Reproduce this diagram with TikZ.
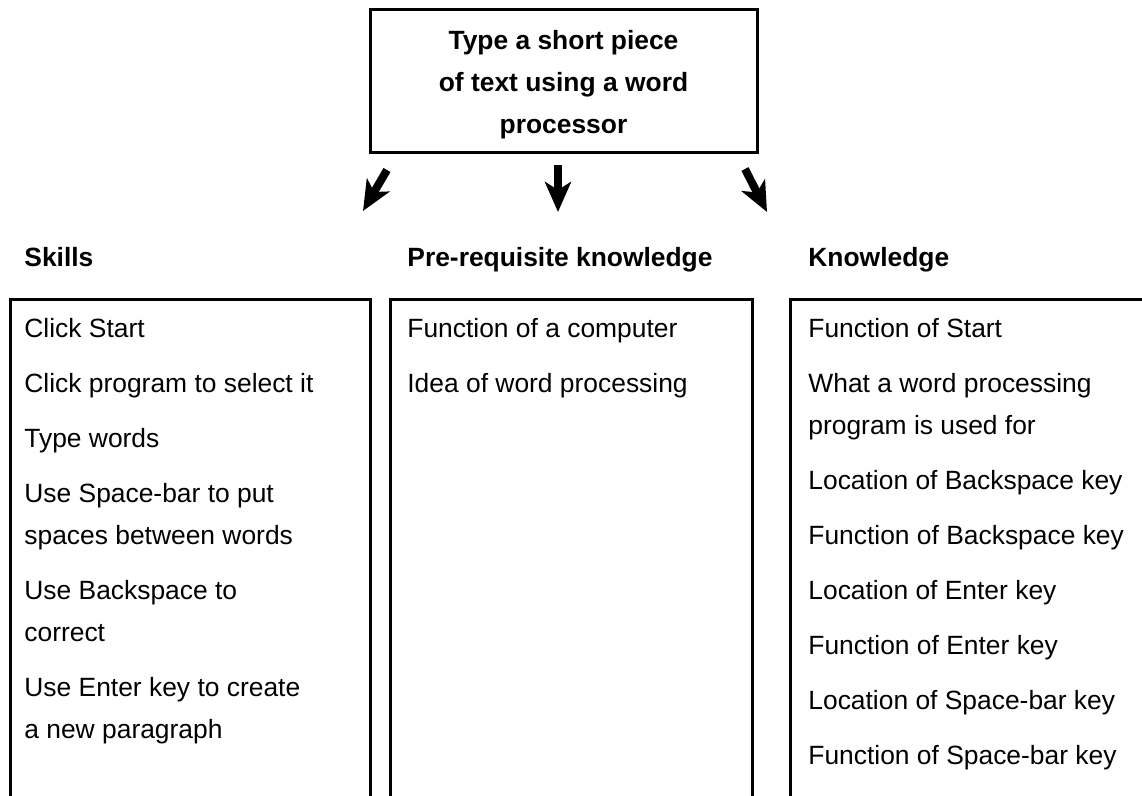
\documentclass[tikz,border=0pt]{standalone}
\usepackage{fontspec}
\setmainfont{Liberation Sans}
\usetikzlibrary{arrows.meta}

\tikzset{
  frame/.style={line width=1.5pt},
  body/.style={anchor=north west, inner sep=0pt, align=left, font=\fontsize{13.2}{21}\selectfont},
  heading/.style={anchor=base west, inner sep=0pt, font=\bfseries\fontsize{13.2}{21}\selectfont},
  fatarrow/.style={line width=4pt, -{Stealth[length=15pt,width=13pt,inset=4pt]}}
}

\begin{document}
\begin{tikzpicture}[x=0.5pt, y=-0.5pt]
  \useasboundingbox (0,0) rectangle (1142,796);
  \clip (0,0) rectangle (1142,796);
  % task box
  \draw[frame] (370,10) rectangle (757,153);
  \node[anchor=north, inner sep=0pt, align=center, font=\bfseries\fontsize{13.2}{21}\selectfont] (task) at (563.5,30)
    {Type a short piece\\of text using a word\\processor};
  % the three arrows
  \coordinate (la) at (387,170);  \coordinate (lb) at (363,211);
  \coordinate (ma) at (558,165);  \coordinate (mb) at (558,212);
  \coordinate (ra) at (745,169);  \coordinate (rb) at (767,212);
  \draw[fatarrow] (la) -- (lb);
  \draw[fatarrow] (ma) -- (mb);
  \draw[fatarrow] (ra) -- (rb);
  % headings
  \node[heading] (skills) at (24,267) {Skills};
  \node[heading] (prereq) at (407,267) {Pre-requisite knowledge};
  \node[heading] (knowl) at (808,267) {Knowledge};
  % columns, open at the bottom
  \draw[frame] (10,300) rectangle (370,850);
  \draw[frame] (390,300) rectangle (752,850);
  \draw[frame] (790,300) rectangle (1160,850);
  \node[body] (skilllist) at (24,318) {Click Start\\[6.5pt]
    Click program to select it\\[6.5pt]
    Type words\\[6.5pt]
    Use Space-bar to put\\spaces between words\\[6.5pt]
    Use Backspace to\\correct\\[6.5pt]
    Use Enter key to create\\a new paragraph};
  \node[body] (prereqlist) at (407,318) {Function of a computer\\[6.5pt]
    Idea of word processing};
  \node[body] (knowlist) at (808,318) {Function of Start\\[6.5pt]
    What a word processing\\program is used for\\[6.5pt]
    Location of Backspace key\\[6.5pt]
    Function of Backspace key\\[6.5pt]
    Location of Enter key\\[6.5pt]
    Function of Enter key\\[6.5pt]
    Location of Space-bar key\\[6.5pt]
    Function of Space-bar key};
\end{tikzpicture}
\end{document}
